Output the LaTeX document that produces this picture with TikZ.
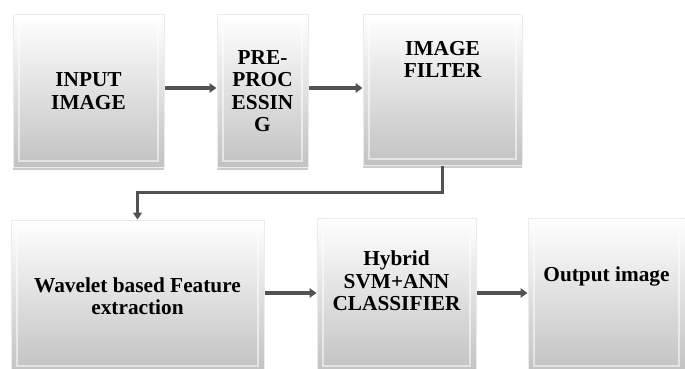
\documentclass[tikz,border=0pt]{standalone}
\usepackage{fontspec}
\setmainfont{Liberation Serif}
\usetikzlibrary{arrows.meta,shadows}
\begin{document}
\begin{tikzpicture}[x=1pt,y=-1pt,
  blk/.style={rectangle, inner sep=0pt, top color=white, bottom color=black!24,
    draw=white!92!black, line width=1pt,
    drop shadow={shadow xshift=0pt, shadow yshift=-2.5pt, fill=black!45, opacity=0.45},
    path picture={\draw[white, line width=1.5pt, opacity=0.55]
      ([xshift=6pt,yshift=-6pt]path picture bounding box.north west) rectangle
      ([xshift=-6pt,yshift=6pt]path picture bounding box.south east);},
    font=\fontsize{21.3}{22.5}\selectfont\bfseries, align=center, text=black},
  txt/.style={font=\fontsize{21.3}{22.5}\selectfont\bfseries, align=center, text=black, inner sep=0pt},
  arr/.style={draw=black!68, line width=3.2pt, -{Triangle[length=7pt,width=9.5pt]}},
  conn/.style={draw=black!68, line width=2.2pt, -{Triangle[length=7pt,width=9pt]}}]
\useasboundingbox (0,0) rectangle (685,369);
\node[blk, minimum width=151pt, minimum height=152pt] (b1) at (88.5,91) {INPUT\\IMAGE};
\node[blk, minimum width=91pt, minimum height=152pt] (b2) at (262.5,91) {PRE-\\PROC\\ESSIN\\G};
\node[blk, minimum width=159pt, minimum height=150pt] (b3) at (442.5,90) {};
\node[txt, anchor=north] (t3) at (442.5,41) {IMAGE\\FILTER};
\node[blk, minimum width=253pt, minimum height=152pt] (b4) at (137.5,296) {Wavelet based Feature\\extraction};
\node[blk, minimum width=159pt, minimum height=154pt] (b5) at (396.5,295) {};
\node[txt, anchor=north] (t5) at (396.5,251) {Hybrid\\SVM+ANN\\CLASSIFIER};
\node[blk, minimum width=157pt, minimum height=154pt] (b6) at (606.5,295) {};
\node[txt, anchor=north] (t6) at (606.5,267) {Output image};
\draw[arr] (b1.east |- 0,88) -- (b2.west |- 0,88);
\draw[arr] (b2.east |- 0,88) -- (b3.west |- 0,88);
\draw[conn] (b3.south) -- ++(0,27) -| (b4.north);
\draw[arr] (b4.east |- 0,293) -- (b5.west |- 0,293);
\draw[arr] (b5.east |- 0,293) -- (b6.west |- 0,293);
\end{tikzpicture}
\end{document}
